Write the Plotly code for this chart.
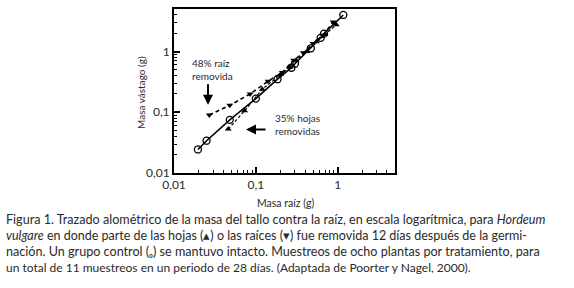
import plotly.graph_objects as go

# Data
ctrl_x = [0.0196, 0.025, 0.048, 0.10, 0.184, 0.272, 0.30, 0.47, 0.62, 0.68, 1.17]
ctrl_y = [0.0244, 0.034, 0.075, 0.168, 0.35, 0.54, 0.63, 1.13, 1.68, 1.97, 4.0]

leaf_x = [0.046, 0.073, 0.12, 0.2, 0.26, 0.31, 0.42, 0.55, 0.7, 0.96]
leaf_y = [0.053, 0.106, 0.24, 0.42, 0.55, 0.72, 1.0, 1.45, 1.9, 2.75]

root_x = [0.027, 0.048, 0.085, 0.141, 0.21, 0.29, 0.38, 0.5, 0.66, 0.88]
root_y = [0.09, 0.13, 0.2, 0.325, 0.45, 0.72, 0.95, 1.35, 1.85, 3.05]

major_vals = [0.01, 0.1, 1]
major_text = ["0,01", "0,1", "1"]
minor_vals = [m * d for d in [0.01, 0.1, 1] for m in range(2, 10) if m * d <= 5]

caption_lines = [
    "Figura 1. Trazado alométrico de la masa del tallo contra la raíz, en escala logarítmica, para <i>Hordeum</i>",
    "<i>vulgare</i> en donde parte de las hojas (▴) o las raíces (▾) fue removida 12 días después de la germi-",
    "nación. Un grupo control (ₒ) se mantuvo intacto. Muestreos de ocho plantas por tratamiento, para",
    "un total de 11 muestreos en un periodo de 28 días. (Adaptada de Poorter y Nagel, 2000).",
]
caption_sizes = [12.6, 12.5, 12.6, 12.0]

FONT = "Lato"
TXT = "#2a2a2a"

fig = go.Figure()
fig.add_trace(go.Scatter(x=root_x, y=root_y, mode="lines+markers",
                         line=dict(color="black", width=1.6, dash="4px,3px"),
                         marker=dict(symbol="triangle-down", size=6, color="black")))
fig.add_trace(go.Scatter(x=leaf_x, y=leaf_y, mode="lines+markers",
                         line=dict(color="black", width=1.2, dash="3px,2px"),
                         marker=dict(symbol="triangle-up", size=6, color="black")))
fig.add_trace(go.Scatter(x=ctrl_x, y=ctrl_y, mode="lines+markers",
                         line=dict(color="black", width=1.6),
                         marker=dict(symbol="circle-open", size=7, color="black",
                                     line=dict(width=1.3, color="black"))))

axis_common = dict(
    type="log", showgrid=False, zeroline=False, showline=True, linecolor="black",
    linewidth=2, mirror=True, ticks="inside", ticklen=6, tickwidth=1.5, tickcolor="black",
    tickvals=major_vals, ticktext=major_text,
    tickfont=dict(family=FONT, size=12, color=TXT),
    minor=dict(ticks="inside", ticklen=3, tickwidth=1.3, tickcolor="black",
               tickvals=minor_vals, showgrid=False),
    range=[-2, 0.70],
)

fig.update_xaxes(**axis_common)
fig.update_yaxes(**axis_common)

W, H = 574, 288
L, R, T, B = 174, 395, 7, 173
pw, ph = R - L, B - T

def px(xp):
    return (xp - L) / pw

def py(yp):
    return (B - yp) / ph

annotations = []
annotations.append(dict(text="Masa raíz (g)", x=px(285), y=py(203), xref="paper", yref="paper",
                        showarrow=False, font=dict(family=FONT, size=10.5, color=TXT),
                        xanchor="center", yanchor="middle"))
annotations.append(dict(text="Masa vástago (g)", x=px(141), y=py(92), xref="paper", yref="paper",
                        showarrow=False, textangle=-90, font=dict(family=FONT, size=10, color=TXT),
                        xanchor="center", yanchor="middle"))
annotations.append(dict(text="48% raíz<br>removida", x=px(190), y=py(68), xref="paper", yref="paper",
                        showarrow=False, align="left", font=dict(family=FONT, size=10, color=TXT),
                        xanchor="left", yanchor="middle"))
annotations.append(dict(text="35% hojas<br>removidas", x=px(273), y=py(124), xref="paper", yref="paper",
                        showarrow=False, align="left", font=dict(family=FONT, size=10, color=TXT),
                        xanchor="left", yanchor="middle"))
# arrows
annotations.append(dict(text="", x=px(208), y=py(104), ax=0, ay=-22,
                        xref="paper", yref="paper",
                        showarrow=True, arrowhead=2, arrowsize=1, arrowwidth=2, arrowcolor="black"))
annotations.append(dict(text="", x=px(246), y=py(129), ax=21, ay=0,
                        xref="paper", yref="paper",
                        showarrow=True, arrowhead=2, arrowsize=1, arrowwidth=2, arrowcolor="black"))

for i, line in enumerate(caption_lines):
    annotations.append(dict(text=line, x=px(4), y=py(220 + 16.3 * i), xref="paper", yref="paper",
                            showarrow=False, align="left",
                            font=dict(family=FONT, size=caption_sizes[i], color=TXT),
                            xanchor="left", yanchor="middle"))

fig.update_layout(
    width=W, height=H,
    margin=dict(l=L, r=W - R, t=T, b=H - B),
    paper_bgcolor="white", plot_bgcolor="white",
    showlegend=False,
    annotations=annotations,
)

fig.write_html("out.html", config={"displayModeBar": False},
               post_script="document.body.style.margin='0';")
